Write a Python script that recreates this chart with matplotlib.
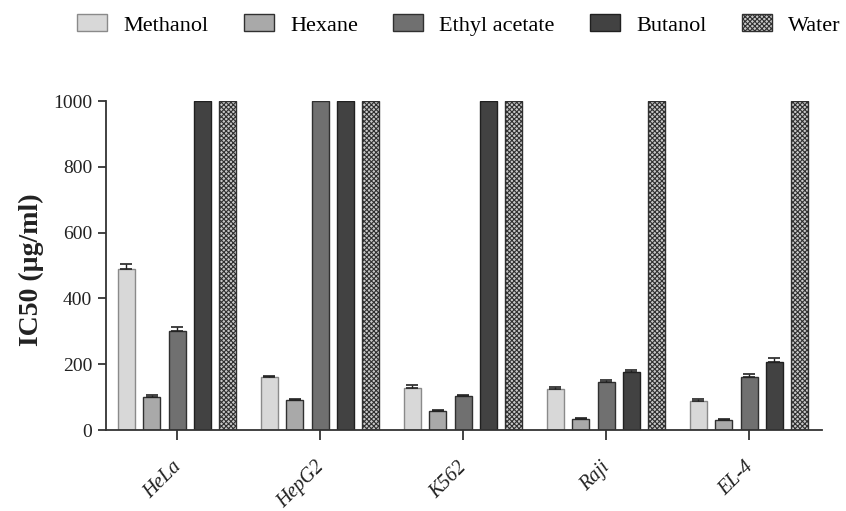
import matplotlib
matplotlib.use("Agg")
import matplotlib.pyplot as plt
import matplotlib.transforms as mtrans
import numpy as np

cell_lines = ["HeLa", "HepG2", "K562", "Raji", "EL-4"]
extracts = ["Methanol", "Hexane", "Ethyl acetate", "Butanol", "Water"]

methanol = [490, 160, 127, 125, 89]
methanol_err = [15, 5, 9, 7, 5]
hexane = [100, 90, 58, 32, 30]
hexane_err = [5, 4, 4, 3, 4]
ethyl_acetate = [300, 1000, 103, 147, 162]
ethyl_acetate_err = [12, 0, 4, 4, 8]
butanol = [1000, 1000, 1000, 177, 208]
butanol_err = [0, 0, 0, 6, 12]
water = [1000, 1000, 1000, 1000, 1000]
water_err = [0, 0, 0, 0, 0]

values = [methanol, hexane, ethyl_acetate, butanol, water]
errors = [methanol_err, hexane_err, ethyl_acetate_err, butanol_err, water_err]

yticks = [0, 200, 400, 600, 800, 1000]

plt.rcParams['font.family'] = ['Liberation Serif', 'DejaVu Serif']
plt.rcParams['hatch.linewidth'] = 0.8

faces = ["#d8d8d8", "#a9a9a9", "#707070", "#424242", "#c8c8c8"]
edges = ["#8a8a8a", "#303030", "#303030", "#202020", "#303030"]
hatches = [None, None, None, None, "xxxxxxx"]

fig = plt.figure(figsize=(8.46, 5.11), dpi=100)
ax = fig.add_axes([0.1253, 0.1585, 0.8463, 0.6438])

x = np.arange(len(cell_lines))
pitch = 0.177
width = 0.119
handles = []
for i, (vals, errs) in enumerate(zip(values, errors)):
    pos = x + (i - 2) * pitch
    b = ax.bar(pos, vals, width=width, color=faces[i], edgecolor=edges[i],
               linewidth=1.0, hatch=hatches[i], label=extracts[i], zorder=2)
    errs_arr = np.array(errs)
    mask = errs_arr > 0
    ax.errorbar(pos[mask], np.array(vals)[mask],
                yerr=[np.zeros(mask.sum()), errs_arr[mask]],
                fmt='none', ecolor='#222222', elinewidth=1.0, capsize=4,
                capthick=1.2, zorder=3)
    handles.append(b)

ax.set_xlim(-0.497, 4.51)
ax.set_ylim(0, 1000)

for s in ['top', 'right']:
    ax.spines[s].set_visible(False)
for s in ['left', 'bottom']:
    ax.spines[s].set_linewidth(1.3)
    ax.spines[s].set_color('#333333')
ax.tick_params(axis='y', direction='out', length=6, width=1.2, pad=4, colors='#222222')
ax.tick_params(axis='x', direction='out', length=7, width=1.2, pad=13, colors='#222222')

ax.set_yticks(yticks)
ax.set_yticklabels([str(t) for t in yticks], fontsize=14)
ax.set_xticks(x)
ax.set_xticklabels(cell_lines, fontsize=14.5, style='italic', rotation=45,
                   ha='right')
offset = mtrans.ScaledTranslation(8/100, 0, fig.dpi_scale_trans)
for lab in ax.get_xticklabels():
    lab.set_transform(lab.get_transform() + offset)

ax.set_ylabel("IC50 (µg/ml)", fontsize=20, fontweight='bold', color='#222222')
ax.yaxis.set_label_coords(-0.086, 0.486)

fig.legend(handles=handles, labels=extracts, loc='center',
           bbox_to_anchor=(0.5426, 0.951), ncol=5, frameon=False,
           fontsize=16, handlelength=1.35, handleheight=0.8,
           handletextpad=0.72, columnspacing=1.6, borderpad=0,
           borderaxespad=0)

fig.savefig("out.png", dpi=100, facecolor='white')
